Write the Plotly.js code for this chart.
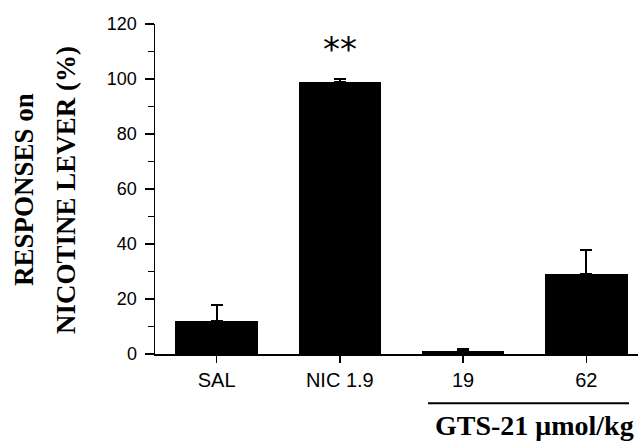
<!DOCTYPE html>
<html>
<head>
<meta charset="utf-8">
<script src="https://cdn.plot.ly/plotly-3.0.1.min.js"></script>
<style>html,body{margin:0;padding:0;background:#fff;}#chart{width:638px;height:442px;}</style>
</head>
<body>
<div id="chart"></div>
<script>
// Data
const categories = ["SAL", "NIC 1.9", "19", "62"];
const responses = [12, 99, 1, 29];
const sem = [6, 1, 1, 9];
const yTicks = [0, 20, 40, 60, 80, 100, 120];

const trace = {
  type: "bar",
  x: [0, 1, 2, 3],
  y: responses,
  width: 0.67,
  marker: { color: "#000000", line: { width: 0 } },
  error_y: {
    type: "data",
    symmetric: false,
    array: sem,
    arrayminus: sem.map(() => 0),
    color: "#000000",
    thickness: 2,
    width: 6
  },
  hoverinfo: "none"
};

const layout = {
  width: 638,
  height: 442,
  margin: { l: 155, r: 0, t: 24, b: 88 },
  paper_bgcolor: "#ffffff",
  plot_bgcolor: "#ffffff",
  showlegend: false,
  bargap: 0,
  xaxis: {
    range: [-0.5, 3.42],
    tickmode: "array",
    tickvals: [0, 1, 2, 3],
    ticktext: categories,
    ticks: "outside",
    ticklen: 7,
    tickwidth: 1.5,
    tickcolor: "#000",
    showline: true,
    linecolor: "#000",
    linewidth: 1.5,
    showgrid: false,
    zeroline: false,
    tickfont: { family: "Liberation Sans, Arial, sans-serif", size: 20, color: "#000" },
    fixedrange: true
  },
  yaxis: {
    range: [0, 120],
    tickmode: "array",
    tickvals: yTicks,
    ticktext: yTicks.map(String),
    ticks: "outside",
    ticklen: 9,
    tickwidth: 1.5,
    tickcolor: "#000",
    ticklabelstandoff: 4,
    minor: { tickmode: "linear", tick0: 0, dtick: 10, ticks: "outside", ticklen: 6, tickwidth: 1.5, tickcolor: "#000" },
    showline: true,
    linecolor: "#000",
    linewidth: 1.5,
    showgrid: false,
    zeroline: false,
    tickfont: { family: "Liberation Sans, Arial, sans-serif", size: 18, color: "#000" },
    fixedrange: true
  },
  annotations: [
    {
      xref: "paper", yref: "paper",
      x: (24 - 155) / 483, y: 0.497,
      text: "RESPONSES on", textangle: -90, showarrow: false,
      xanchor: "center", yanchor: "middle",
      font: { family: "Liberation Serif, Times New Roman, serif", size: 27, color: "#000", weight: "bold" }
    },
    {
      xref: "paper", yref: "paper",
      x: (66 - 155) / 483, y: 0.497,
      text: "NICOTINE LEVER (%)", textangle: -90, showarrow: false,
      xanchor: "center", yanchor: "middle",
      font: { family: "Liberation Serif, Times New Roman, serif", size: 27, color: "#000", weight: "bold" }
    },
    {
      xref: "x", yref: "y",
      x: 1, y: 111,
      text: "**", showarrow: false,
      xanchor: "center", yanchor: "middle",
      font: { family: "DejaVu Sans, sans-serif", size: 34, color: "#000" }
    },
    {
      xref: "paper", yref: "paper",
      x: (534 - 155) / 483, y: (354 - 425) / 330,
      text: "GTS-21 μmol/kg", showarrow: false,
      xanchor: "center", yanchor: "middle",
      font: { family: "Liberation Serif, Times New Roman, serif", size: 28, color: "#000", weight: "bold" }
    }
  ],
  shapes: [
    {
      type: "line", xref: "paper", yref: "paper",
      x0: (428 - 155) / 483, x1: (629 - 155) / 483,
      y0: (354 - 403.3) / 330, y1: (354 - 403.3) / 330,
      line: { color: "#000", width: 2 }
    }
  ]
};

Plotly.newPlot("chart", [trace], layout, { displayModeBar: false, staticPlot: true });
</script>
</body>
</html>
